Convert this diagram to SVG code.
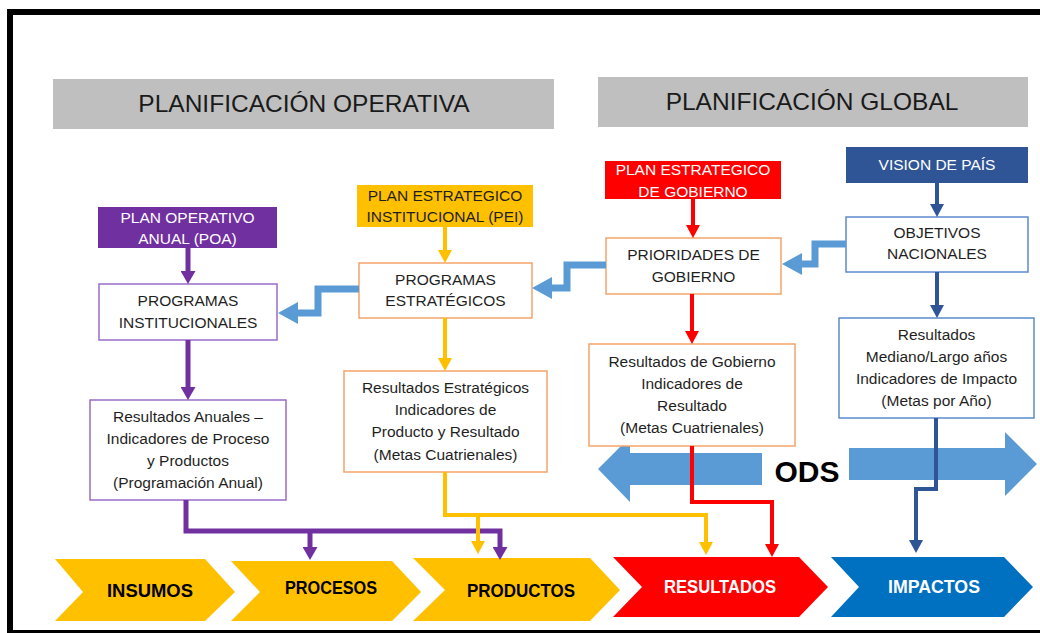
<svg xmlns="http://www.w3.org/2000/svg" width="1040" height="633" viewBox="0 0 1040 633">
<style>
text{font-family:"Liberation Sans",Arial,sans-serif;}
.hdr{fill:#bfbfbf;}
.htxt{font-size:24.5px;fill:#1a1a1a;text-anchor:middle;}
.ntxt{font-size:15.5px;fill:#1f1f1f;text-anchor:middle;}
.wtxt{font-size:15.5px;fill:#ffffff;text-anchor:middle;}
.obox{fill:#fff;stroke:#f4a46a;stroke-width:1.5;}
.pbox{fill:#fff;stroke:#9a6cc8;stroke-width:1.5;}
.bbox{fill:#fff;stroke:#5b8ad0;stroke-width:1.5;}
.ctxt{font-size:19px;font-weight:bold;text-anchor:middle;}
.cp{fill:none;stroke:#7030a0;stroke-width:5;}
.cy{fill:none;stroke:#ffc000;stroke-width:4;}
.cr{fill:none;stroke:#ff0000;stroke-width:4;}
.cb{fill:none;stroke:#2f5597;stroke-width:4;}
.zz{fill:none;stroke:#5b9bd5;stroke-width:7;}
</style>
<defs>
<marker id="mp" viewBox="0 0 13 15" markerWidth="13" markerHeight="15" refX="8" refY="7.5" orient="auto" markerUnits="userSpaceOnUse"><path d="M0,0 L13,7.5 L0,15 z" fill="#7030a0"/></marker>
<marker id="my" viewBox="0 0 13 14" markerWidth="13" markerHeight="14" refX="8" refY="7" orient="auto" markerUnits="userSpaceOnUse"><path d="M0,0 L13,7 L0,14 z" fill="#ffc000"/></marker>
<marker id="mr" viewBox="0 0 13 14" markerWidth="13" markerHeight="14" refX="8" refY="7" orient="auto" markerUnits="userSpaceOnUse"><path d="M0,0 L13,7 L0,14 z" fill="#ff0000"/></marker>
<marker id="mb" viewBox="0 0 13 14" markerWidth="13" markerHeight="14" refX="8" refY="7" orient="auto" markerUnits="userSpaceOnUse"><path d="M0,0 L13,7 L0,14 z" fill="#2f5597"/></marker>
<marker id="mz" viewBox="0 0 20 22" markerWidth="20" markerHeight="22" refX="2" refY="11" orient="auto" markerUnits="userSpaceOnUse"><path d="M0,0 L20,11 L0,22 z" fill="#5b9bd5"/></marker>
</defs>
<rect width="1040" height="633" fill="#fff"/>
<!-- frame -->
<rect x="7" y="9" width="1033" height="6" fill="#000"/>
<rect x="7" y="9" width="6" height="624" fill="#000"/>
<rect x="7" y="630" width="1033" height="3" fill="#000"/>

<!-- headers -->
<g id="hdr-operativa"><rect class="hdr" x="53" y="79" width="501" height="50"/><text class="htxt" x="304" y="112">PLANIFICACIÓN OPERATIVA</text></g>
<g id="hdr-global"><rect class="hdr" x="598" y="77" width="430" height="50"/><text class="htxt" x="812" y="110">PLANIFICACIÓN GLOBAL</text></g>

<!-- ODS -->
<g id="ods">
<polygon points="598,469 630,437 630,453 762,453 762,485 630,485 630,502" fill="#5b9bd5"/>
<polygon points="849,448 1005,448 1005,432 1037,464 1005,496 1005,480 849,480" fill="#5b9bd5"/>
<text x="807" y="482" font-size="30" font-weight="bold" text-anchor="middle" fill="#000">ODS</text>
</g>

<!-- nodes -->
<g id="poa"><rect x="98" y="207" width="179" height="41" fill="#7030a0"/><text class="wtxt" x="187.5" y="223">PLAN OPERATIVO</text><text class="wtxt" x="187.5" y="244">ANUAL (POA)</text></g>
<g id="prog-inst"><rect class="pbox" x="99" y="284" width="178" height="56"/><text class="ntxt" x="188" y="306">PROGRAMAS</text><text class="ntxt" x="188" y="328">INSTITUCIONALES</text></g>
<g id="res-anuales"><rect class="pbox" x="90" y="400" width="196" height="100"/>
<text class="ntxt" x="188" y="422">Resultados Anuales –</text><text class="ntxt" x="188" y="444">Indicadores de Proceso</text><text class="ntxt" x="188" y="466">y Productos</text><text class="ntxt" x="188" y="488">(Programación Anual)</text></g>

<g id="pei"><rect x="357" y="185" width="176" height="42" fill="#ffc000"/><text class="ntxt" x="445" y="201">PLAN ESTRATEGICO</text><text class="ntxt" x="445" y="222">INSTITUCIONAL (PEI)</text></g>
<g id="prog-estr"><rect class="obox" x="359" y="263" width="173" height="55"/><text class="ntxt" x="445.5" y="285">PROGRAMAS</text><text class="ntxt" x="445.5" y="306">ESTRATÉGICOS</text></g>
<g id="res-estr"><rect class="obox" x="344" y="371" width="203" height="101"/>
<text class="ntxt" x="445.5" y="393">Resultados Estratégicos</text><text class="ntxt" x="445.5" y="415">Indicadores de</text><text class="ntxt" x="445.5" y="437">Producto y Resultado</text><text class="ntxt" x="445.5" y="460">(Metas Cuatrienales)</text></g>

<g id="peg"><rect x="605" y="161" width="176" height="38" fill="#ff0000"/><text class="wtxt" x="693" y="175">PLAN ESTRATEGICO</text><text class="wtxt" x="693" y="197">DE GOBIERNO</text></g>
<g id="prioridades"><rect class="obox" x="606" y="238" width="175" height="56"/><text class="ntxt" x="693.5" y="260">PRIORIDADES DE</text><text class="ntxt" x="693.5" y="282">GOBIERNO</text></g>
<g id="res-gob"><rect class="obox" x="589" y="344" width="206" height="102"/>
<text class="ntxt" x="692" y="367">Resultados de Gobierno</text><text class="ntxt" x="692" y="389">Indicadores de</text><text class="ntxt" x="692" y="411">Resultado</text><text class="ntxt" x="692" y="433">(Metas Cuatrienales)</text></g>

<g id="vision"><rect x="846" y="147" width="182" height="36" fill="#2f5597"/><text class="wtxt" x="937" y="170">VISION DE PAÍS</text></g>
<g id="objetivos"><rect class="bbox" x="846" y="217" width="182" height="55"/><text class="ntxt" x="937" y="238">OBJETIVOS</text><text class="ntxt" x="937" y="259">NACIONALES</text></g>
<g id="res-mediano"><rect class="bbox" x="839" y="318" width="195" height="100"/>
<text class="ntxt" x="936.5" y="340">Resultados</text><text class="ntxt" x="936.5" y="362">Mediano/Largo años</text><text class="ntxt" x="936.5" y="384">Indicadores de Impacto</text><text class="ntxt" x="936.5" y="406">(Metas por Año)</text></g>

<!-- chevrons -->
<g id="insumos"><polygon points="55,559 205,559 235,592 205,621 55,621 83,592" fill="#ffc000"/><text class="ctxt" x="150" y="597" fill="#000" textLength="86" lengthAdjust="spacingAndGlyphs">INSUMOS</text></g>
<g id="procesos"><polygon points="231,561 392,561 421,592 392,621 231,621 260,592" fill="#ffc000"/><text class="ctxt" x="331" y="594" fill="#000" textLength="92" lengthAdjust="spacingAndGlyphs">PROCESOS</text></g>
<g id="productos"><polygon points="413,558 590,558 620,590 590,621 413,621 445,590" fill="#ffc000"/><text class="ctxt" x="521" y="597" fill="#000" textLength="108" lengthAdjust="spacingAndGlyphs">PRODUCTOS</text></g>
<g id="resultados"><polygon points="613,557 799,557 828,587 799,617 613,617 642,587" fill="#ff0000"/><text class="ctxt" x="720" y="593" fill="#fff" textLength="112" lengthAdjust="spacingAndGlyphs">RESULTADOS</text></g>
<g id="impactos"><polygon points="831,557 1004,557 1033,587 1004,617 831,617 859,587" fill="#0070c0"/><text class="ctxt" x="934" y="593" fill="#fff" textLength="92" lengthAdjust="spacingAndGlyphs">IMPACTOS</text></g>

<!-- connectors -->
<g id="connectors">
<polyline class="zz" points="359,289 318,289 318,313 296,313" marker-end="url(#mz)"/>
<polyline class="zz" points="606,265 567,265 567,288 550,288" marker-end="url(#mz)"/>
<polyline class="zz" points="846,244 815,244 815,264 800,264" marker-end="url(#mz)"/>

<path class="cp" d="M188,248 V279" marker-end="url(#mp)"/>
<path class="cp" d="M188,340 V395" marker-end="url(#mp)"/>
<path class="cp" d="M186,500 V531 H500 V555" marker-end="url(#mp)"/>
<path class="cp" d="M310,531 V555" marker-end="url(#mp)"/>

<path class="cy" d="M445,227 V258" marker-end="url(#my)"/>
<path class="cy" d="M445,318 V366" marker-end="url(#my)"/>
<path class="cy" d="M445,472 V515 H706 V550" marker-end="url(#my)"/>
<path class="cy" d="M478,515 V549" marker-end="url(#my)"/>

<path class="cr" d="M693,199 V233" marker-end="url(#mr)"/>
<path class="cr" d="M692,294 V339" marker-end="url(#mr)"/>
<path class="cr" d="M692,446 V502 H772 V552" marker-end="url(#mr)"/>

<path class="cb" d="M937,183 V212" marker-end="url(#mb)"/>
<path class="cb" d="M937,272 V313" marker-end="url(#mb)"/>
<path class="cb" d="M936,418 V489 H916 V548" marker-end="url(#mb)"/>
</g>
</svg>
